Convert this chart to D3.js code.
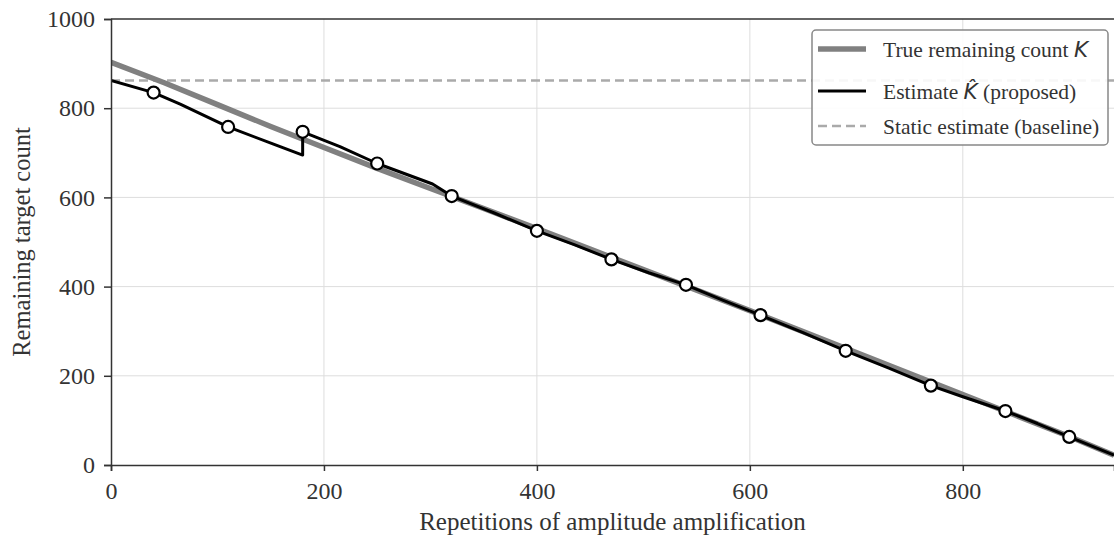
<!DOCTYPE html>
<html>
<head>
<meta charset="utf-8">
<script src="https://cdn.jsdelivr.net/npm/d3@7"></script>
<style>
  body { margin: 0; background: #fff; }
  svg text { font-family: "Liberation Serif", "DejaVu Serif", serif; fill: #333; }
</style>
</head>
<body>
<svg id="chart" width="1114" height="537"></svg>
<script>
// true remaining count K
var trueX = [0, 50, 100, 150, 200, 250, 300, 350, 400, 450, 500, 550, 600, 650, 700, 750, 800, 850, 900, 942]
var trueK = [903, 857, 808, 759, 712, 665, 620, 575, 530, 484, 438, 392, 346, 299, 252, 205, 158, 111, 64, 22]

// proposed estimate K-hat, with the re-estimation jump at 180
var estX = [0, 40, 65, 110, 152, 180, 180, 215, 250, 302, 320, 360, 400, 435, 470, 505, 540, 575, 610, 650, 690, 730, 770, 800, 840, 870, 900, 942]
var estK = [862, 835, 809, 758, 720, 695, 747, 714, 676, 630, 603, 565, 525, 494, 461, 431, 404, 369, 336, 297, 256, 218, 178, 153, 121, 93, 63, 22]

// update points (circles)
var markX = [40, 110, 180, 250, 320, 400, 470, 540, 610, 690, 770, 840, 900]
var markK = [835, 758, 747, 676, 603, 525, 461, 404, 336, 256, 178, 121, 63]

var staticEstimate = 862

var xTicks = [0, 200, 400, 600, 800]
var yTicks = [0, 200, 400, 600, 800, 1000]

var margin = {left: 111, right: 0, top: 19, bottom: 72}
var width = 1114, height = 537

var svg = d3.select('#chart')

var x = d3.scaleLinear().domain([0, 942]).range([margin.left, width - margin.right])
var y = d3.scaleLinear().domain([0, 1000]).range([height - margin.bottom, margin.top])

svg.append('clipPath').attr('id', 'plotClip')
  .append('rect')
  .attr('x', x(0)).attr('y', y(1000))
  .attr('width', x(942) - x(0)).attr('height', y(0) - y(1000))

// grid
var grid = svg.append('g')
grid.selectAll('.gx').data(xTicks.filter(d => d > 0)).join('line')
  .attr('x1', d => x(d)).attr('x2', d => x(d))
  .attr('y1', y(0)).attr('y2', y(1000))
  .attr('stroke', '#dddddd').attr('stroke-width', 1)
grid.selectAll('.gy').data(yTicks.filter(d => d > 0 && d < 1000)).join('line')
  .attr('class', 'gy')
  .attr('x1', x(0)).attr('x2', x(942))
  .attr('y1', d => y(d)).attr('y2', d => y(d))
  .attr('stroke', '#dddddd').attr('stroke-width', 1)

var plot = svg.append('g').attr('clip-path', 'url(#plotClip)')

// static baseline
plot.append('line')
  .attr('x1', x(0)).attr('x2', x(942))
  .attr('y1', y(staticEstimate)).attr('y2', y(staticEstimate))
  .attr('stroke', '#aaaaaa').attr('stroke-width', 2.5)
  .attr('stroke-dasharray', '9,5')

var line = d3.line().x(d => x(d[0])).y(d => y(d[1]))

plot.append('path')
  .datum(d3.zip(trueX, trueK))
  .attr('d', line)
  .attr('fill', 'none')
  .attr('stroke', '#808080')
  .attr('stroke-width', 5.5)

plot.append('path')
  .datum(d3.zip(estX, estK))
  .attr('d', line)
  .attr('fill', 'none')
  .attr('stroke', '#000')
  .attr('stroke-width', 3)
  .attr('stroke-linejoin', 'round')

svg.append('g').selectAll('circle')
  .data(d3.zip(markX, markK))
  .join('circle')
  .attr('cx', d => x(d[0]))
  .attr('cy', d => y(d[1]))
  .attr('r', 6)
  .attr('fill', '#fff')
  .attr('stroke', '#000')
  .attr('stroke-width', 2.2)

// axes
var xAxis = svg.append('g')
  .attr('transform', 'translate(0,' + y(0) + ')')
  .call(d3.axisBottom(x).tickValues(xTicks).tickFormat(d3.format('d')).tickSize(6).tickPadding(11))
var yAxis = svg.append('g')
  .attr('transform', 'translate(' + x(0) + ',0)')
  .call(d3.axisLeft(y).tickValues(yTicks).tickFormat(d3.format('d')).tickSize(7).tickPadding(9))

;[xAxis, yAxis].forEach(a => {
  a.select('.domain').attr('stroke', '#333').attr('stroke-width', 1.5)
  a.selectAll('.tick line').attr('stroke', '#333').attr('stroke-width', 1.5)
  a.selectAll('.tick text')
    .attr('font-family', '"Liberation Serif", serif')
    .attr('font-size', 24)
    .attr('fill', '#333')
})
// top spine
svg.append('line')
  .attr('x1', x(0)).attr('x2', width)
  .attr('y1', y(1000)).attr('y2', y(1000))
  .attr('stroke', '#333').attr('stroke-width', 1.5)

svg.append('text')
  .attr('x', (x(0) + width) / 2)
  .attr('y', 530)
  .attr('text-anchor', 'middle')
  .attr('font-size', 25)
  .text('Repetitions of amplitude amplification')

svg.append('text')
  .attr('transform', 'translate(30,' + (y(0) + y(1000)) / 2 + ') rotate(-90)')
  .attr('text-anchor', 'middle')
  .attr('font-size', 24.5)
  .text('Remaining target count')

// legend
var legend = svg.append('g')
legend.append('rect')
  .attr('x', 812).attr('y', 30)
  .attr('width', 296).attr('height', 115)
  .attr('rx', 4)
  .attr('fill', '#fff').attr('fill-opacity', 0.9)
  .attr('stroke', '#888').attr('stroke-width', 1.5)

var rows = [
  {y: 49, stroke: '#808080', w: 5.5, dash: null, label: 'True remaining count ', math: 'K'},
  {y: 91, stroke: '#000', w: 3, dash: null, label: 'Estimate ', math: 'K\u0302', after: ' (proposed)'},
  {y: 126, stroke: '#aaaaaa', w: 2.5, dash: '9,5', label: 'Static estimate (baseline)'}
]
rows.forEach(r => {
  legend.append('line')
    .attr('x1', 818).attr('x2', 866)
    .attr('y1', r.y).attr('y2', r.y)
    .attr('stroke', r.stroke).attr('stroke-width', r.w)
    .attr('stroke-dasharray', r.dash)
  var t = legend.append('text')
    .attr('x', 883).attr('y', r.y + 7.5)
    .attr('font-size', 21.5)
    .attr('fill', '#222')
  t.append('tspan').text(r.label)
  if (r.math) {
    t.append('tspan')
      .attr('font-family', '"DejaVu Sans", sans-serif')
      .attr('font-style', 'italic')
      .text(r.math)
  }
  if (r.after) t.append('tspan').text(r.after)
})
</script>
</body>
</html>
